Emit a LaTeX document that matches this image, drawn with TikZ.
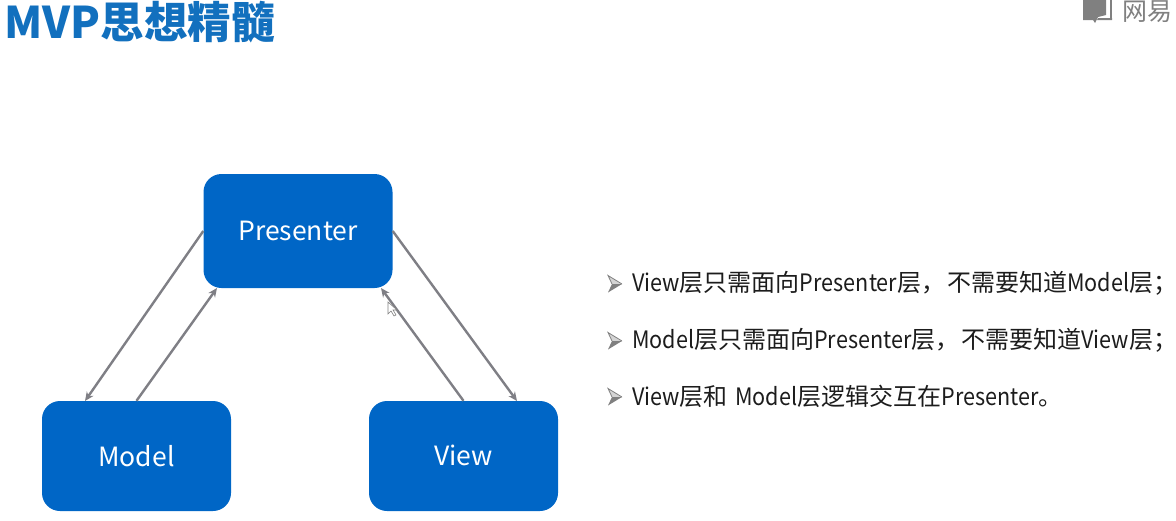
\documentclass[tikz,border=0pt]{standalone}
\usepackage{fontspec}
\setmainfont{Noto Sans CJK SC}
\newfontfamily\narrowfont[FakeStretch=0.9]{Noto Sans CJK SC}
\newcommand{\lat}[1]{{\narrowfont #1}}
\usepackage{tikz}
\usetikzlibrary{positioning, arrows.meta}
\definecolor{layer}{HTML}{0066C6}
\definecolor{heading}{HTML}{1270BE}
\definecolor{link}{HTML}{7F7F85}
\definecolor{muted}{HTML}{808080}
\definecolor{pale}{HTML}{D4D4D4}
\definecolor{body}{HTML}{1C1C1C}

\begin{document}
\begin{tikzpicture}[
    x=1pt, y=-1pt,
    >={Stealth[length=9pt,width=8pt]},
    layerbox/.style={rounded corners=18pt, fill=layer, text=white, inner sep=0pt,
                 font=\fontsize{26.5}{30}\selectfont},
    pipe/.style={->, draw=link, line width=2.4pt},
    title/.style={anchor=west, inner sep=0pt, text=heading, font=\fontsize{43.6}{48}\selectfont\bfseries},
    point/.style={anchor=west, inner sep=0pt, text=body, font=\fontsize{24}{28}\selectfont},
    brand/.style={anchor=west, inner sep=0pt, text=muted, font=\fontsize{25}{28}\selectfont},
    tick/.pic={
        \fill[pale] (-7,-8.5) -- (7,0) -- (-3,0) -- cycle;
        \draw[muted, line width=0.8pt] (-3,0) -- (-7,-8.5) -- (7,0);
        \fill[muted] (-7,8.5) -- (7,0) -- (-3,0) -- cycle;
    },
]
\useasboundingbox (0,0) rectangle (1176,520);

\node[title] (head) at (4,22) {MVP思想精髓};

% watermark
\fill[muted] (1083,0) -- (1106,0) -- (1106,15) -- (1098,17) -- (1095,23) -- (1093,20) -- (1083,20) -- cycle;
\fill[muted] (1110,0) rectangle (1112,20);
\fill[muted] (1098,18) -- (1112,18) -- (1112,20) -- (1097,20) -- cycle;
\node[brand] (logo) at (1122,12) {网易};

\node[layerbox, minimum width=189pt, minimum height=114pt] (presenter) at (298,231) {Presenter};
\node[layerbox, minimum width=189pt, minimum height=110pt] (model) at (136.5,456) {\raisebox{1pt}{Model}};
\node[layerbox, minimum width=189pt, minimum height=110pt] (view) at (463.5,456) {\raisebox{1pt}{View}};

\coordinate (modelin) at (85,401);
\coordinate (viewin) at (517,401);
\coordinate (presleft) at (217,288);
\coordinate (presright) at (381,288);

\draw[pipe] (presenter.west) -- (modelin);
\draw[pipe] (model.north) -- (presleft);
\draw[pipe] (view.north) -- (presright);
\draw[pipe] (presenter.east) -- (viewin);

% mouse pointer
\draw[draw=muted, fill=white, line width=0.6pt] (388,302) -- (388,314) -- (391,311) -- (394,316) -- (396,315) -- (393,310) -- (397,310) -- cycle;

\pic at (615,284) {tick};
\pic at (615,341) {tick};
\pic at (615,397) {tick};
\node[point] (p1) at (632,283) {\lat{View}层只需面向\lat{Presenter}层，\hspace{2pt}不需要知道\lat{Model}层；};
\node[point] (p2) at (632,340) {\lat{Model}层只需面向\lat{Presenter}层，\hspace{2pt}不需要知道\lat{View}层；};
\node[point] (p3) at (632,396) {\lat{View}层和\hspace{2pt} \lat{Model}层逻辑交互在\lat{Presenter}。};

\end{tikzpicture}
\end{document}
